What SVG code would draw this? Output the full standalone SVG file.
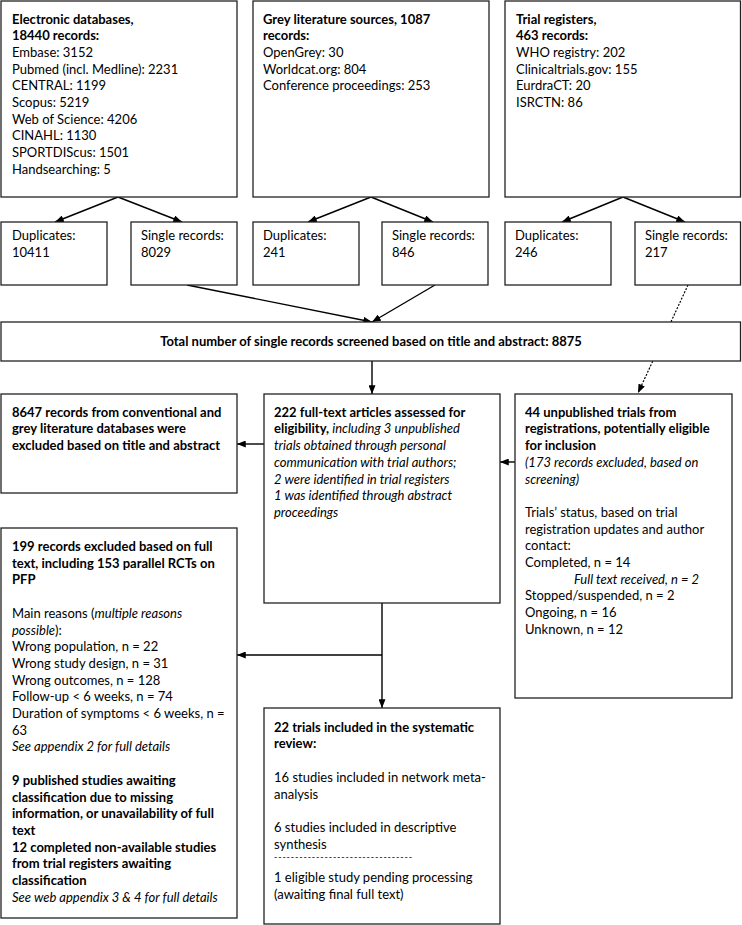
<svg xmlns="http://www.w3.org/2000/svg" width="742" height="925" viewBox="0 0 742 925">
<style>
text{font-family:Lato,"Liberation Sans",sans-serif;font-size:13px;fill:#000}
.b{font-weight:bold}
.i{font-style:italic}
.c{text-anchor:middle}
rect{fill:#fff;stroke:#222;stroke-width:1.3}
.ln{stroke:#000;stroke-width:1.4;fill:none}
.dot{stroke:#000;stroke-width:1.2;stroke-dasharray:2 1.5;fill:none}
</style>
<defs>
<marker id="ah" viewBox="0 0 10 8" markerWidth="9" markerHeight="7" refX="10" refY="4" orient="auto" markerUnits="userSpaceOnUse">
<path d="M0,0 L10,4 L0,8 z" fill="#000"/>
</marker>
</defs>
<g id="connectors">
<line class="ln" x1="118" y1="197" x2="55" y2="222" marker-end="url(#ah)"/>
<line class="ln" x1="118" y1="197" x2="182" y2="222" marker-end="url(#ah)"/>
<line class="ln" x1="371" y1="197" x2="308" y2="222" marker-end="url(#ah)"/>
<line class="ln" x1="371" y1="197" x2="433" y2="222" marker-end="url(#ah)"/>
<line class="ln" x1="623" y1="197" x2="562" y2="222" marker-end="url(#ah)"/>
<line class="ln" x1="623" y1="197" x2="685" y2="222" marker-end="url(#ah)"/>
<line class="ln" x1="187" y1="285" x2="372" y2="322" marker-end="url(#ah)"/>
<line class="ln" x1="435" y1="285" x2="372" y2="322" marker-end="url(#ah)"/>
<line class="dot" x1="688" y1="285" x2="638" y2="393" marker-end="url(#ah)"/>
<line class="ln" x1="372" y1="361" x2="372" y2="394" marker-end="url(#ah)"/>
<line class="ln" x1="264" y1="444" x2="237" y2="444" marker-end="url(#ah)"/>
<line class="ln" x1="515" y1="462" x2="500" y2="462" marker-end="url(#ah)"/>
<line class="ln" x1="382" y1="603" x2="382" y2="708" marker-end="url(#ah)"/>
<line class="ln" x1="382" y1="655" x2="237" y2="655" marker-end="url(#ah)"/>
</g>
<g id="electronic">
<rect x="1" y="1" width="236" height="196"/>
<text x="12" y="23.5" class="b">Electronic databases,</text>
<text x="12" y="40.2" class="b">18440 records:</text>
<text x="12" y="56.9">Embase: 3152</text>
<text x="12" y="73.6">Pubmed (incl. Medline): 2231</text>
<text x="12" y="90.3">CENTRAL: 1199</text>
<text x="12" y="107">Scopus: 5219</text>
<text x="12" y="123.7">Web of Science: 4206</text>
<text x="12" y="140.4">CINAHL: 1130</text>
<text x="12" y="157.1">SPORTDIScus: 1501</text>
<text x="12" y="173.8">Handsearching: 5</text>
</g>
<g id="grey">
<rect x="253" y="1" width="236" height="196"/>
<text x="263" y="23.5" class="b">Grey literature sources, 1087</text>
<text x="263" y="40.2" class="b">records:</text>
<text x="263" y="56.9">OpenGrey: 30</text>
<text x="263" y="73.6">Worldcat.org: 804</text>
<text x="263" y="90.3">Conference proceedings: 253</text>
</g>
<g id="registers">
<rect x="505" y="1" width="235.5" height="196"/>
<text x="516" y="23.5" class="b">Trial registers,</text>
<text x="516" y="40.2" class="b">463 records:</text>
<text x="516" y="56.9">WHO registry: 202</text>
<text x="516" y="73.6">Clinicaltrials.gov: 155</text>
<text x="516" y="90.3">EurdraCT: 20</text>
<text x="516" y="107">ISRCTN: 86</text>
</g>
<g id="dup1">
<rect x="1" y="222" width="106" height="63"/>
<text x="12" y="240">Duplicates:</text>
<text x="12" y="256.7">10411</text>
</g>
<g id="single1">
<rect x="131" y="222" width="106" height="63"/>
<text x="141" y="240">Single records:</text>
<text x="141" y="256.7">8029</text>
</g>
<g id="dup2">
<rect x="253" y="222" width="106" height="63"/>
<text x="263" y="240">Duplicates:</text>
<text x="263" y="256.7">241</text>
</g>
<g id="single2">
<rect x="382" y="222" width="106" height="63"/>
<text x="392" y="240">Single records:</text>
<text x="392" y="256.7">846</text>
</g>
<g id="dup3">
<rect x="505" y="222" width="106" height="63"/>
<text x="515" y="240">Duplicates:</text>
<text x="515" y="256.7">246</text>
</g>
<g id="single3">
<rect x="635" y="222" width="105.5" height="63"/>
<text x="645" y="240">Single records:</text>
<text x="645" y="256.7">217</text>
</g>
<g id="total">
<rect x="1" y="322" width="739.5" height="39"/>
<text x="371" y="345.5" class="b c">Total number of single records screened based on title and abstract: 8875</text>
</g>
<g id="excluded-title">
<rect x="1" y="394" width="236" height="99"/>
<text x="12" y="416.7" class="b">8647 records from conventional and</text>
<text x="12" y="433.4" class="b">grey literature databases were</text>
<text x="12" y="450.1" class="b">excluded based on title and abstract</text>
</g>
<g id="fulltext">
<rect x="264" y="394" width="236" height="209"/>
<text x="274" y="416.7" class="b">222 full-text articles assessed for</text>
<text x="274" y="433.4"><tspan class="b">eligibility,</tspan><tspan class="i"> including 3 unpublished</tspan></text>
<text x="274" y="450.1" class="i">trials obtained through personal</text>
<text x="274" y="466.8" class="i">communication with trial authors;</text>
<text x="274" y="483.5" class="i">2 were identified in trial registers</text>
<text x="274" y="500.2" class="i">1 was identified through abstract</text>
<text x="274" y="516.9" class="i">proceedings</text>
</g>
<g id="unpublished">
<rect x="515" y="394" width="217" height="304"/>
<text x="525" y="416.7" class="b">44 unpublished trials from</text>
<text x="525" y="433.4" class="b">registrations, potentially eligible</text>
<text x="525" y="450.1" class="b">for inclusion</text>
<text x="525" y="466.8" class="i">(173 records excluded, based on</text>
<text x="525" y="483.5" class="i">screening)</text>
<text x="525" y="516.9">Trials’ status, based on trial</text>
<text x="525" y="533.6">registration updates and author</text>
<text x="525" y="550.3">contact:</text>
<text x="525" y="567">Completed, n = 14</text>
<text x="574" y="583.7" class="i">Full text received, n = 2</text>
<text x="525" y="600.4">Stopped/suspended, n = 2</text>
<text x="525" y="617.1">Ongoing, n = 16</text>
<text x="525" y="633.8">Unknown, n = 12</text>
</g>
<g id="excluded-fulltext">
<rect x="1" y="528" width="236" height="390"/>
<text x="12" y="551" class="b">199 records excluded based on full</text>
<text x="12" y="567.7" class="b">text, including 153 parallel RCTs on</text>
<text x="12" y="584.4" class="b">PFP</text>
<text x="12" y="617.8">Main reasons (<tspan class="i">multiple reasons</tspan></text>
<text x="12" y="634.5"><tspan class="i">possible</tspan>):</text>
<text x="12" y="651.2">Wrong population, n = 22</text>
<text x="12" y="667.9">Wrong study design, n = 31</text>
<text x="12" y="684.6">Wrong outcomes, n = 128</text>
<text x="12" y="701.3">Follow-up &lt; 6 weeks, n = 74</text>
<text x="12" y="718">Duration of symptoms &lt; 6 weeks, n =</text>
<text x="12" y="734.7">63</text>
<text x="12" y="751.4" class="i">See appendix 2 for full details</text>
<text x="12" y="784.8" class="b">9 published studies awaiting</text>
<text x="12" y="801.5" class="b">classification due to missing</text>
<text x="12" y="818.2" class="b">information, or unavailability of full</text>
<text x="12" y="834.9" class="b">text</text>
<text x="12" y="851.6" class="b">12 completed non-available studies</text>
<text x="12" y="868.3" class="b">from trial registers awaiting</text>
<text x="12" y="885" class="b">classification</text>
<text x="12" y="901.7" class="i">See web appendix 3 &amp; 4 for full details</text>
</g>
<g id="included">
<rect x="264" y="708" width="236" height="216"/>
<text x="274" y="731.7" class="b">22 trials included in the systematic</text>
<text x="274" y="748.4" class="b">review:</text>
<text x="274" y="781.8">16 studies included in network meta-</text>
<text x="274" y="798.5">analysis</text>
<text x="274" y="831.9">6 studies included in descriptive</text>
<text x="274" y="848.6">synthesis</text>
<text x="274" y="860" style="font-size:9px" textLength="138" lengthAdjust="spacing">---------------------------------</text>
<text x="274" y="882">1 eligible study pending processing</text>
<text x="274" y="898.7">(awaiting final full text)</text>
</g>
</svg>
